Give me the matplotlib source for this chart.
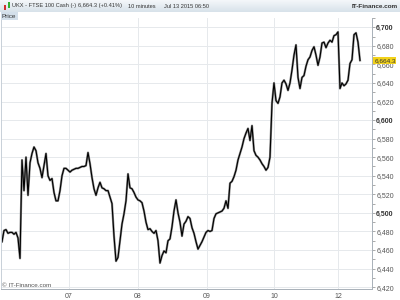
import numpy as np
import matplotlib
matplotlib.use('Agg')
import matplotlib.pyplot as plt
from matplotlib.ticker import FuncFormatter, MultipleLocator

plt.rcParams['font.family'] = ['Liberation Sans', 'DejaVu Sans']

# 10-minute closes, UKX (FTSE 100 Cash)
prices = [
    6469, 6481, 6482, 6478, 6479, 6479, 6477, 6479, 6473, 6451,
    6557, 6524, 6560, 6519, 6554, 6564, 6571, 6567, 6554, 6548,
    6538, 6551, 6564, 6540, 6535, 6537, 6522, 6513, 6513, 6524,
    6540, 6548, 6548, 6546, 6544, 6546, 6547, 6548, 6548, 6549,
    6550, 6550, 6551, 6565, 6553, 6538, 6526, 6519, 6527, 6533,
    6527, 6526, 6524, 6524, 6517, 6510, 6475, 6448, 6452, 6470,
    6488, 6499, 6513, 6542, 6527, 6526, 6522, 6517, 6514, 6513,
    6511, 6502, 6490, 6482, 6483, 6480, 6478, 6481, 6470, 6446,
    6454, 6459, 6457, 6470, 6472, 6485, 6502, 6514, 6500, 6490,
    6475, 6488, 6491, 6496, 6494, 6484, 6478, 6469, 6461, 6465,
    6469, 6474, 6479, 6481, 6480, 6481, 6494, 6499, 6500, 6501,
    6502, 6505, 6513, 6505, 6532, 6534, 6539, 6546, 6557, 6564,
    6571, 6580, 6586, 6591, 6578, 6594, 6567, 6562, 6560, 6557,
    6553, 6550, 6546, 6549, 6560, 6618, 6640, 6621, 6618, 6625,
    6640, 6643, 6639, 6632, 6640, 6654, 6670, 6681, 6646, 6634,
    6646, 6648, 6658, 6665, 6668, 6675, 6679, 6670, 6659, 6668,
    6683, 6684, 6678, 6683, 6686, 6684, 6691, 6692, 6695, 6634,
    6640, 6637, 6639, 6643, 6661, 6665, 6692, 6694, 6684, 6664.3,
]
# bar index where each day starts, and the day labels
day_starts = [33.5, 68, 102.5, 136, 168]
day_labels = ['07', '08', '09', '10', '12']
last_price = 6664.3

fig = plt.figure(figsize=(4, 3), dpi=100)
fig.patch.set_facecolor('white')

# main price panel
ax = fig.add_axes([1 / 400, 11 / 300, 371 / 400, 271 / 300])
x = np.arange(len(prices))
ax.plot(x, prices, color='#8a8a8a', lw=1.6)
ax.plot(x, prices, color='black', lw=0.8)
ax.set_xlim(-0.5, 185)
ax.set_ylim(6418, 6710)

ax.yaxis.tick_right()
ax.yaxis.set_major_locator(MultipleLocator(20))
ax.yaxis.set_minor_locator(MultipleLocator(10))
ax.yaxis.set_major_formatter(FuncFormatter(lambda v, p: f'{v:,.0f}'))
ax.tick_params(axis='y', which='both', length=2, width=0.5, colors='#888888',
               labelsize=5, labelcolor='#555555', pad=1)
fig.canvas.draw()
for lab in ax.get_yticklabels():
    if round(lab.get_position()[1]) % 100 == 0:
        lab.set_fontweight('bold')
        lab.set_color('#333333')

ax.set_xticks(day_starts)
ax.set_xticklabels(day_labels)
ax.tick_params(axis='x', length=0, labelsize=5, labelcolor='#555555', pad=3)

ax.grid(True, color='#e6e9ec', lw=0.7)
ax.set_axisbelow(True)
ax.spines['top'].set_visible(False)
ax.spines['left'].set_color('#c8d0d8')
ax.spines['right'].set_color('#a8b0b8')
ax.spines['bottom'].set_color('#a8b0b8')
for s in ax.spines.values():
    s.set_linewidth(0.7)

# last price tag
ax.text(1.006, last_price, f'{last_price:,.1f}', transform=ax.get_yaxis_transform(),
        fontsize=4.6, color='#333333', va='center', ha='left',
        bbox=dict(boxstyle='square,pad=0.12', fc='#f2d21a', ec='none'))

ax.text(0.003, 0.004, '© IT-Finance.com', transform=ax.transAxes,
        fontsize=4.5, color='#555555', va='bottom', ha='left')

# header band
hdr = fig.add_axes([0, 288 / 300, 1, 12 / 300])
grad = np.linspace(0, 1, 20).reshape(-1, 1)
hdr.imshow(grad, aspect='auto', cmap=matplotlib.colors.LinearSegmentedColormap.from_list(
    'h', ['#f4f7fa', '#d8e2ea']), extent=[0, 1, 0, 1], origin='upper')
hdr.set_xlim(0, 1)
hdr.set_ylim(0, 1)
hdr.axis('off')
hdr.bar([0.012], [0.45], width=0.006, bottom=0.15, color='#d03030')
hdr.bar([0.022], [0.55], width=0.006, bottom=0.3, color='#30b030')
hdr_parts = [(12, 'UKX - FTSE 100 Cash (-)'), (78, '6,664.3 (+0.41%)'),
             (128, '10 minutes'), (164, 'Jul 13 2015 06:50')]
for px, txt in hdr_parts:
    hdr.text(px / 400, 0.5, txt, fontsize=4.1, color='#333333', va='center', ha='left')
hdr.text(0.995, 0.5, 'IT-Finance.com', fontsize=4.6, color='#333333', va='center',
         ha='right', fontweight='bold')

# "Price" tag
fig.text(2 / 400, 284 / 300, 'Price', fontsize=4.6, color='#333333', va='center', ha='left',
         bbox=dict(boxstyle='square,pad=0.2', fc='#d3dfea', ec='none'))

fig.savefig('out.png', dpi=100)
